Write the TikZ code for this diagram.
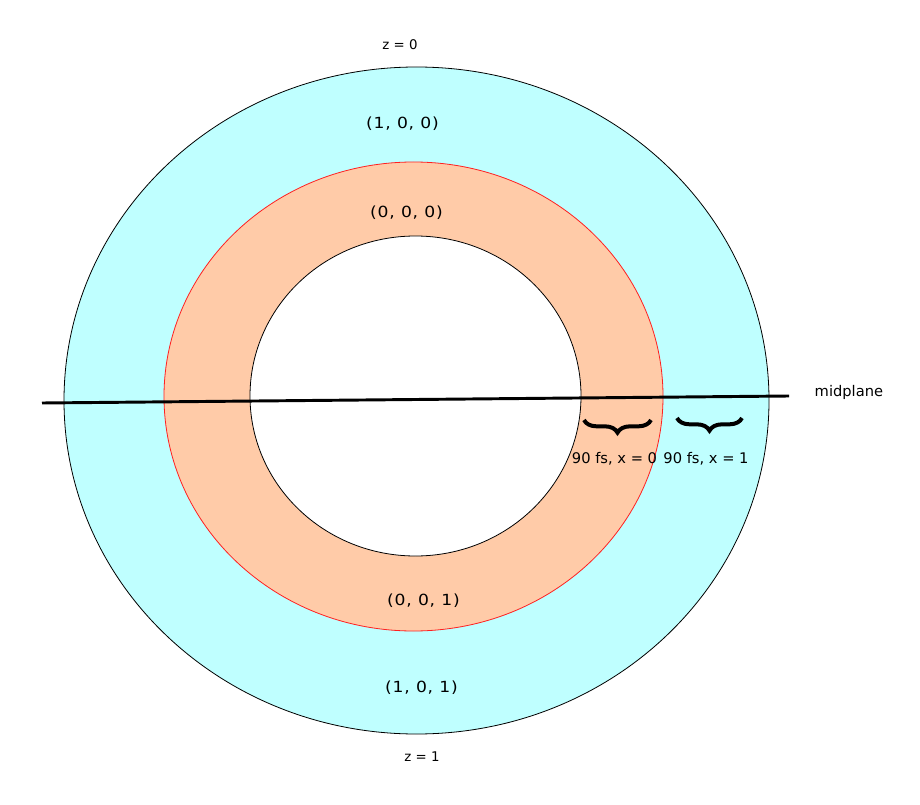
\documentclass[tikz,border=0pt]{standalone}
\usepackage{fontspec}
\setmainfont{DejaVu Sans}
\newfontfamily\zonefont[FakeStretch=1.12, LetterSpace=5]{DejaVu Sans}
\definecolor{ringCyan}{HTML}{BFFFFF}
\definecolor{ringPeach}{HTML}{FFCBA8}
\definecolor{ringRed}{HTML}{FF2020}
\usetikzlibrary{decorations.pathreplacing}

\begin{document}
\begin{tikzpicture}[x=0.75pt, y=-0.75pt,
    zone/.style={font=\zonefont\fontsize{11.5}{13}\selectfont},
    tag/.style={font=\fontsize{10}{12}\selectfont},
    bigtag/.style={font=\fontsize{11}{13}\selectfont},
    bracket/.style={decorate, decoration={brace, amplitude=9.5pt}, line width=3pt}]
  \useasboundingbox (0,0) rectangle (920,805);
  % rings
  \draw[fill=ringCyan, line width=0.6pt] (416.5,400.5) ellipse [x radius=352.5, y radius=333.5];
  \draw[fill=ringPeach, draw=ringRed, line width=0.6pt] (413.5,396.5) ellipse [x radius=249.5, y radius=234.5];
  \draw[fill=white, line width=0.6pt] (415.5,396) ellipse [x radius=165.5, y radius=160];
  % midplane
  \coordinate (midL) at (42,403);
  \coordinate (midR) at (789,396);
  \draw[line width=2.2pt] (midL) -- (midR);
  \node[bigtag, anchor=west] (midplane) at (810,392) {midplane};
  % labels
  \node[tag] (ztop) at (400,45) {z = 0};
  \node[zone] (outtop) at (402.5,124) {(1, 0, 0)};
  \node[zone] (intop) at (406.5,213) {(0, 0, 0)};
  \node[zone] (inbot) at (423.5,601) {(0, 0, 1)};
  \node[zone] (outbot) at (421.5,688) {(1, 0, 1)};
  \node[tag] (zbot) at (422,757) {z = 1};
  % braces
  \coordinate (bA1) at (584,420);
  \coordinate (bA2) at (651,420);
  \coordinate (bB1) at (677,418);
  \coordinate (bB2) at (742,418);
  \draw[bracket] (bA2) -- (bA1);
  \draw[bracket] (bB2) -- (bB1);
  \node[bigtag] (fsx0) at (614.5,459) {90 fs, x = 0};
  \node[bigtag] (fsx1) at (706,459) {90 fs, x = 1};
\end{tikzpicture}
\end{document}
